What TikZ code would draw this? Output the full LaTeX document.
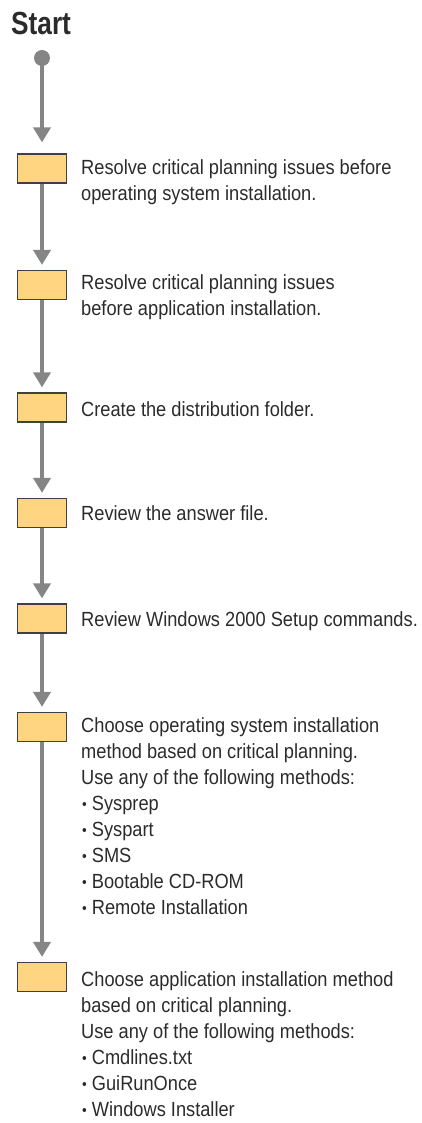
\documentclass[tikz,border=0pt]{standalone}
\usepackage{fontspec}
\setmainfont{Liberation Sans}[FakeStretch=0.89]
\newfontfamily\titlefont{Liberation Sans}[FakeStretch=0.82]
\usepackage{tikz}
\usetikzlibrary{arrows.meta, positioning}
\usepackage{xcolor}
\definecolor{stepfill}{HTML}{FFD582}
\definecolor{flowgray}{HTML}{858585}
\definecolor{inkgray}{HTML}{2B2B2B}
\newcommand{\itm}{\hspace*{1pt}\raisebox{1pt}{\fontsize{15}{15}\selectfont•}\hspace*{5pt}}

\begin{document}
\begin{tikzpicture}[x=1pt, y=-1pt,
    stepbox/.style={draw=inkgray!90, fill=stepfill, line width=1.2pt,
                    minimum width=49pt, minimum height=29pt, inner sep=0pt},
    desc/.style={anchor=north west, align=left, inner sep=0pt, text=inkgray,
                 font=\fontsize{20.5}{26}\selectfont},
    flow/.style={-{Triangle[width=17pt, length=15pt]}, line width=4pt,
                 draw=flowgray, shorten >=5pt}
  ]
    \useasboundingbox (0,0) rectangle (421,1123);

    \node[anchor=north west, inner sep=0pt, text=inkgray,
          font=\titlefont\fontsize{32}{36}\selectfont\bfseries] (title) at (11,12) {Start};
    \node[circle, fill=flowgray, minimum size=16pt, inner sep=0pt] (start) at (42,58) {};

    \node[stepbox] (b1) at (42,168.5) {};
    \node[stepbox] (b2) at (42,285) {};
    \node[stepbox] (b3) at (42,407.5) {};
    \node[stepbox] (b4) at (42,513) {};
    \node[stepbox] (b5) at (42,618.5) {};
    \node[stepbox] (b6) at (42,727) {};
    \node[stepbox] (b7) at (42,977) {};

    \node[desc] (t1) at (81,159)
      {Resolve critical planning issues before\\operating system installation.};
    \node[desc] (t2) at (81,274)
      {Resolve critical planning issues\\before application installation.};
    \node[desc] (t3) at (81,401) {Create the distribution folder.};
    \node[desc] (t4) at (81,505) {Review the answer file.};
    \node[desc] (t5) at (81,611) {Review Windows 2000 Setup commands.};
    \node[desc] (t6) at (81,717)
      {Choose operating system installation\\method based on critical planning.\\
       Use any of the following methods:\\\itm Sysprep\\\itm Syspart\\\itm SMS\\
       \itm Bootable CD-ROM\\\itm Remote Installation};
    \node[desc] (t7) at (81,971)
      {Choose application installation method\\based on critical planning.\\
       Use any of the following methods:\\\itm Cmdlines.txt\\\itm GuiRunOnce\\
       \itm Windows Installer};

    \draw[flow, shorten >=11pt] (start.center) -- (b1.north);
    \draw[flow] (b1.south) -- (b2.north);
    \draw[flow] (b2.south) -- (b3.north);
    \draw[flow] (b3.south) -- (b4.north);
    \draw[flow] (b4.south) -- (b5.north);
    \draw[flow] (b5.south) -- (b6.north);
    \draw[flow] (b6.south) -- (b7.north);
  \end{tikzpicture}
\end{document}
